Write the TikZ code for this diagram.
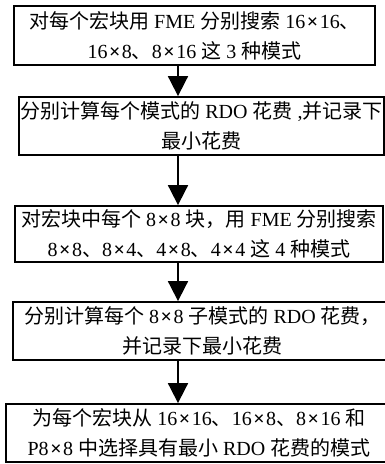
\documentclass[tikz,border=0pt]{standalone}
\usepackage{fontspec}
\setmainfont{Liberation Serif}
\newfontfamily\cjk{Noto Sans CJK SC}
\newcommand\zh[1]{{\cjk #1}}
\newcommand\tm{\kern1.5pt{\bfseries ×}\kern1.5pt}
\usetikzlibrary{arrows.meta}
\begin{document}
\begin{tikzpicture}[x=1pt,y=-1pt,
  box/.style={draw, line width=1.8pt, inner sep=0pt, align=center,
    font=\fontsize{20pt}{30pt}\selectfont},
  flow/.style={line width=1.8pt, -{Triangle[length=20pt,width=20pt]}}]
\useasboundingbox (0,0) rectangle (385,464);
\fill[white] (0,0) rectangle (385,464);
\clip (0,0) rectangle (385,464);
\node[box, minimum width=361pt, minimum height=59pt] (b1) at (194.5,35.5)
  {\zh{对每个宏块用} FME \zh{分别搜索} 16\tm16\zh{、}\\16\tm8\zh{、}8\tm16 \zh{这} 3 \zh{种模式}};
\node[box, minimum width=365pt, minimum height=58pt] (b2) at (201.5,126)
  {\zh{分别计算每个模式的} RDO \zh{花费} ,\zh{并记录下}\\\zh{最小花费}};
\node[box, minimum width=368pt, minimum height=56pt] (b3) at (199,234)
  {\zh{对宏块中每个} 8\tm8 \zh{块，用} FME \zh{分别搜索}\\8\tm8\zh{、}8\tm4\zh{、}4\tm8\zh{、}4\tm4 \zh{这} 4 \zh{种模式}};
\node[box, minimum width=379pt, minimum height=58pt] (b4) at (202.5,331)
  {\zh{分别计算每个} 8\tm8 \zh{子模式的} RDO \zh{花费，}\\\zh{并记录下最小花费}};
\node[box, minimum width=386pt, minimum height=58pt] (b5) at (199,433)
  {\zh{为每个宏块从} 16\tm16\zh{、}16\tm8\zh{、}8\tm16 \zh{和}\\P8\tm8 \zh{中选择具有最小} RDO \zh{花费的模式}};
\coordinate (ax) at (178,0);
\draw[flow] (b1.south -| ax) -- (b2.north -| ax);
\draw[flow] (b2.south -| ax) -- (b3.north -| ax);
\draw[flow] (b3.south -| ax) -- (b4.north -| ax);
\draw[flow] (b4.south -| ax) -- (b5.north -| ax);
\end{tikzpicture}
\end{document}
